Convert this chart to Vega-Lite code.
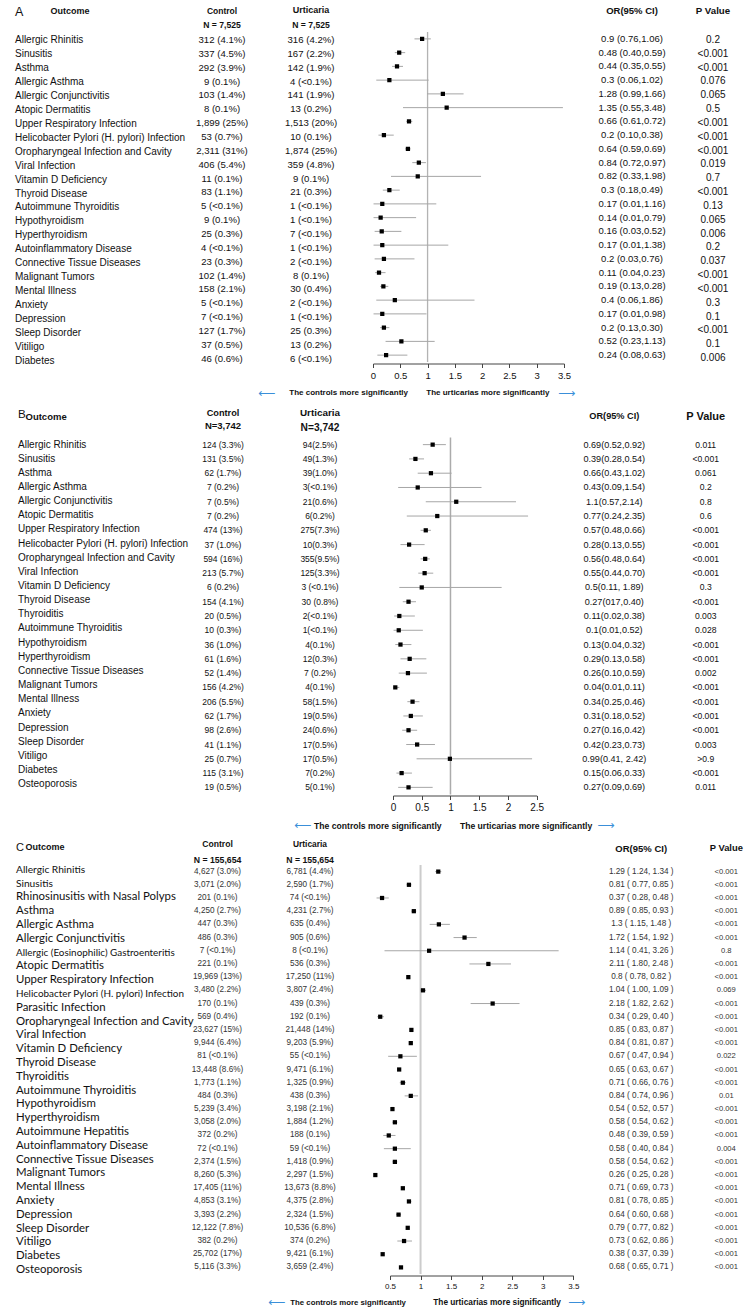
{
  "$schema": "https://vega.github.io/schema/vega-lite/v6.json",
  "padding": {"left": 15, "top": 5, "right": 5, "bottom": 0},
  "background": "white",
  "spacing": 8.5,
  "config": {
    "view": {"stroke": null},
    "font": "Liberation Sans",
    "text": {"color": "#111", "font": "Liberation Sans"},
    "title": {"anchor": "middle", "frame": "group", "fontWeight": "bold", "subtitleFontWeight": "bold", "font": "Liberation Sans", "subtitleFont": "Liberation Sans", "color": "#111", "subtitleColor": "#111"},
    "axis": {"labelFont": "Liberation Sans", "titleFont": "Liberation Sans", "labelColor": "#111", "titleColor": "#111"}
  },
  "datasets": {
    "A": [
      {"row": 1, "outcome": "Allergic Rhinitis", "control": "312 (4.1%)", "urticaria": "316 (4.2%)", "ci": "0.9 (0.76,1.06)", "p": "0.2", "or": 0.9, "lo": 0.76, "hi": 1.06},
      {"row": 2, "outcome": "Sinusitis", "control": "337 (4.5%)", "urticaria": "167 (2.2%)", "ci": "0.48 (0.40,0.59)", "p": "<0.001", "or": 0.48, "lo": 0.40, "hi": 0.59},
      {"row": 3, "outcome": "Asthma", "control": "292 (3.9%)", "urticaria": "142 (1.9%)", "ci": "0.44 (0.35,0.55)", "p": "<0.001", "or": 0.44, "lo": 0.35, "hi": 0.55},
      {"row": 4, "outcome": "Allergic Asthma", "control": "9 (0.1%)", "urticaria": "4 (<0.1%)", "ci": "0.3 (0.06,1.02)", "p": "0.076", "or": 0.3, "lo": 0.06, "hi": 1.02},
      {"row": 5, "outcome": "Allergic Conjunctivitis", "control": "103 (1.4%)", "urticaria": "141 (1.9%)", "ci": "1.28 (0.99,1.66)", "p": "0.065", "or": 1.28, "lo": 0.99, "hi": 1.66},
      {"row": 6, "outcome": "Atopic Dermatitis", "control": "8 (0.1%)", "urticaria": "13 (0.2%)", "ci": "1.35 (0.55,3.48)", "p": "0.5", "or": 1.35, "lo": 0.55, "hi": 3.48},
      {"row": 7, "outcome": "Upper Respiratory Infection", "control": "1,899 (25%)", "urticaria": "1,513 (20%)", "ci": "0.66 (0.61,0.72)", "p": "<0.001", "or": 0.66, "lo": 0.61, "hi": 0.72},
      {"row": 8, "outcome": "Helicobacter Pylori (H. pylori) Infection", "control": "53 (0.7%)", "urticaria": "10 (0.1%)", "ci": "0.2 (0.10,0.38)", "p": "<0.001", "or": 0.2, "lo": 0.10, "hi": 0.38},
      {"row": 9, "outcome": "Oropharyngeal Infection and Cavity", "control": "2,311 (31%)", "urticaria": "1,874 (25%)", "ci": "0.64 (0.59,0.69)", "p": "<0.001", "or": 0.64, "lo": 0.59, "hi": 0.69},
      {"row": 10, "outcome": "Viral Infection", "control": "406 (5.4%)", "urticaria": "359 (4.8%)", "ci": "0.84 (0.72,0.97)", "p": "0.019", "or": 0.84, "lo": 0.72, "hi": 0.97},
      {"row": 11, "outcome": "Vitamin D Deficiency", "control": "11 (0.1%)", "urticaria": "9 (0.1%)", "ci": "0.82 (0.33,1.98)", "p": "0.7", "or": 0.82, "lo": 0.33, "hi": 1.98},
      {"row": 12, "outcome": "Thyroid Disease", "control": "83 (1.1%)", "urticaria": "21 (0.3%)", "ci": "0.3 (0.18,0.49)", "p": "<0.001", "or": 0.3, "lo": 0.18, "hi": 0.49},
      {"row": 13, "outcome": "Autoimmune Thyroiditis", "control": "5 (<0.1%)", "urticaria": "1 (<0.1%)", "ci": "0.17 (0.01,1.16)", "p": "0.13", "or": 0.17, "lo": 0.01, "hi": 1.16},
      {"row": 14, "outcome": "Hypothyroidism", "control": "9 (0.1%)", "urticaria": "1 (<0.1%)", "ci": "0.14 (0.01,0.79)", "p": "0.065", "or": 0.14, "lo": 0.01, "hi": 0.79},
      {"row": 15, "outcome": "Hyperthyroidism", "control": "25 (0.3%)", "urticaria": "7 (<0.1%)", "ci": "0.16 (0.03,0.52)", "p": "0.006", "or": 0.16, "lo": 0.03, "hi": 0.52},
      {"row": 16, "outcome": "Autoinflammatory Disease", "control": "4 (<0.1%)", "urticaria": "1 (<0.1%)", "ci": "0.17 (0.01,1.38)", "p": "0.2", "or": 0.17, "lo": 0.01, "hi": 1.38},
      {"row": 17, "outcome": "Connective Tissue Diseases", "control": "23 (0.3%)", "urticaria": "2 (<0.1%)", "ci": "0.2 (0.03,0.76)", "p": "0.037", "or": 0.2, "lo": 0.03, "hi": 0.76},
      {"row": 18, "outcome": "Malignant Tumors", "control": "102 (1.4%)", "urticaria": "8 (0.1%)", "ci": "0.11 (0.04,0.23)", "p": "<0.001", "or": 0.11, "lo": 0.04, "hi": 0.23},
      {"row": 19, "outcome": "Mental Illness", "control": "158 (2.1%)", "urticaria": "30 (0.4%)", "ci": "0.19 (0.13,0.28)", "p": "<0.001", "or": 0.19, "lo": 0.13, "hi": 0.28},
      {"row": 20, "outcome": "Anxiety", "control": "5 (<0.1%)", "urticaria": "2 (<0.1%)", "ci": "0.4 (0.06,1.86)", "p": "0.3", "or": 0.4, "lo": 0.06, "hi": 1.86},
      {"row": 21, "outcome": "Depression", "control": "7 (<0.1%)", "urticaria": "1 (<0.1%)", "ci": "0.17 (0.01,0.98)", "p": "0.1", "or": 0.17, "lo": 0.01, "hi": 0.98},
      {"row": 22, "outcome": "Sleep Disorder", "control": "127 (1.7%)", "urticaria": "25 (0.3%)", "ci": "0.2 (0.13,0.30)", "p": "<0.001", "or": 0.2, "lo": 0.13, "hi": 0.30},
      {"row": 23, "outcome": "Vitiligo", "control": "37 (0.5%)", "urticaria": "13 (0.2%)", "ci": "0.52 (0.23,1.13)", "p": "0.1", "or": 0.52, "lo": 0.23, "hi": 1.13},
      {"row": 24, "outcome": "Diabetes", "control": "46 (0.6%)", "urticaria": "6 (<0.1%)", "ci": "0.24 (0.08,0.63)", "p": "0.006", "or": 0.24, "lo": 0.08, "hi": 0.63}
    ],
    "B": [
      {"row": 1, "outcome": "Allergic Rhinitis", "control": "124 (3.3%)", "urticaria": "94(2.5%)", "ci": "0.69(0.52,0.92)", "p": "0.011", "or": 0.69, "lo": 0.52, "hi": 0.92},
      {"row": 2, "outcome": "Sinusitis", "control": "131 (3.5%)", "urticaria": "49(1.3%)", "ci": "0.39(0.28,0.54)", "p": "<0.001", "or": 0.39, "lo": 0.28, "hi": 0.54},
      {"row": 3, "outcome": "Asthma", "control": "62 (1.7%)", "urticaria": "39(1.0%)", "ci": "0.66(0.43,1.02)", "p": "0.061", "or": 0.66, "lo": 0.43, "hi": 1.02},
      {"row": 4, "outcome": "Allergic Asthma", "control": "7 (0.2%)", "urticaria": "3(<0.1%)", "ci": "0.43(0.09,1.54)", "p": "0.2", "or": 0.43, "lo": 0.09, "hi": 1.54},
      {"row": 5, "outcome": "Allergic Conjunctivitis", "control": "7 (0.5%)", "urticaria": "21(0.6%)", "ci": "1.1(0.57,2.14)", "p": "0.8", "or": 1.1, "lo": 0.57, "hi": 2.14},
      {"row": 6, "outcome": "Atopic Dermatitis", "control": "7 (0.2%)", "urticaria": "6(0.2%)", "ci": "0.77(0.24,2.35)", "p": "0.6", "or": 0.77, "lo": 0.24, "hi": 2.35},
      {"row": 7, "outcome": "Upper Respiratory Infection", "control": "474 (13%)", "urticaria": "275(7.3%)", "ci": "0.57(0.48,0.66)", "p": "<0.001", "or": 0.57, "lo": 0.48, "hi": 0.66},
      {"row": 8, "outcome": "Helicobacter Pylori (H. pylori) Infection", "control": "37 (1.0%)", "urticaria": "10(0.3%)", "ci": "0.28(0.13,0.55)", "p": "<0.001", "or": 0.28, "lo": 0.13, "hi": 0.55},
      {"row": 9, "outcome": "Oropharyngeal Infection and Cavity", "control": "594 (16%)", "urticaria": "355(9.5%)", "ci": "0.56(0.48,0.64)", "p": "<0.001", "or": 0.56, "lo": 0.48, "hi": 0.64},
      {"row": 10, "outcome": "Viral Infection", "control": "213 (5.7%)", "urticaria": "125(3.3%)", "ci": "0.55(0.44,0.70)", "p": "<0.001", "or": 0.55, "lo": 0.44, "hi": 0.70},
      {"row": 11, "outcome": "Vitamin D Deficiency", "control": "6 (0.2%)", "urticaria": "3 (<0.1%)", "ci": "0.5(0.11, 1.89)", "p": "0.3", "or": 0.5, "lo": 0.11, "hi": 1.89},
      {"row": 12, "outcome": "Thyroid Disease", "control": "154 (4.1%)", "urticaria": "30 (0.8%)", "ci": "0.27(017,0.40)", "p": "<0.001", "or": 0.27, "lo": 0.17, "hi": 0.40},
      {"row": 13, "outcome": "Thyroiditis", "control": "20 (0.5%)", "urticaria": "2(<0.1%)", "ci": "0.11(0.02,0.38)", "p": "0.003", "or": 0.11, "lo": 0.02, "hi": 0.38},
      {"row": 14, "outcome": "Autoimmune Thyroiditis", "control": "10 (0.3%)", "urticaria": "1(<0.1%)", "ci": "0.1(0.01,0.52)", "p": "0.028", "or": 0.1, "lo": 0.01, "hi": 0.52},
      {"row": 15, "outcome": "Hypothyroidism", "control": "36 (1.0%)", "urticaria": "4(0.1%)", "ci": "0.13(0.04,0.32)", "p": "<0.001", "or": 0.13, "lo": 0.04, "hi": 0.32},
      {"row": 16, "outcome": "Hyperthyroidism", "control": "61 (1.6%)", "urticaria": "12(0.3%)", "ci": "0.29(0.13,0.58)", "p": "<0.001", "or": 0.29, "lo": 0.13, "hi": 0.58},
      {"row": 17, "outcome": "Connective Tissue Diseases", "control": "52 (1.4%)", "urticaria": "7 (0.2%)", "ci": "0.26(0.10,0.59)", "p": "0.002", "or": 0.26, "lo": 0.10, "hi": 0.59},
      {"row": 18, "outcome": "Malignant Tumors", "control": "156 (4.2%)", "urticaria": "4(0.1%)", "ci": "0.04(0.01,0.11)", "p": "<0.001", "or": 0.04, "lo": 0.01, "hi": 0.11},
      {"row": 19, "outcome": "Mental Illness", "control": "206 (5.5%)", "urticaria": "58(1.5%)", "ci": "0.34(0.25,0.46)", "p": "<0.001", "or": 0.34, "lo": 0.25, "hi": 0.46},
      {"row": 20, "outcome": "Anxiety", "control": "62 (1.7%)", "urticaria": "19(0.5%)", "ci": "0.31(0.18,0.52)", "p": "<0.001", "or": 0.31, "lo": 0.18, "hi": 0.52},
      {"row": 21, "outcome": "Depression", "control": "98 (2.6%)", "urticaria": "24(0.6%)", "ci": "0.27(0.16,0.42)", "p": "<0.001", "or": 0.27, "lo": 0.16, "hi": 0.42},
      {"row": 22, "outcome": "Sleep Disorder", "control": "41 (1.1%)", "urticaria": "17(0.5%)", "ci": "0.42(0.23,0.73)", "p": "0.003", "or": 0.42, "lo": 0.23, "hi": 0.73},
      {"row": 23, "outcome": "Vitiligo", "control": "25 (0.7%)", "urticaria": "17(0.5%)", "ci": "0.99(0.41, 2.42)", "p": ">0.9", "or": 0.99, "lo": 0.41, "hi": 2.42},
      {"row": 24, "outcome": "Diabetes", "control": "115 (3.1%)", "urticaria": "7(0.2%)", "ci": "0.15(0.06,0.33)", "p": "<0.001", "or": 0.15, "lo": 0.06, "hi": 0.33},
      {"row": 25, "outcome": "Osteoporosis", "control": "19 (0.5%)", "urticaria": "5(0.1%)", "ci": "0.27(0.09,0.69)", "p": "0.011", "or": 0.27, "lo": 0.09, "hi": 0.69}
    ],
    "C": [
      {"row": 1, "control": "4,627 (3.0%)", "urticaria": "6,781 (4.4%)", "ci": "1.29 ( 1.24, 1.34 )", "p": "<0.001", "or": 1.29, "lo": 1.24, "hi": 1.34},
      {"row": 2, "control": "3,071 (2.0%)", "urticaria": "2,590 (1.7%)", "ci": "0.81 ( 0.77, 0.85 )", "p": "<0.001", "or": 0.81, "lo": 0.77, "hi": 0.85},
      {"row": 3, "control": "201 (0.1%)", "urticaria": "74 (<0.1%)", "ci": "0.37 ( 0.28, 0.48 )", "p": "<0.001", "or": 0.37, "lo": 0.28, "hi": 0.48},
      {"row": 4, "control": "4,250 (2.7%)", "urticaria": "4,231 (2.7%)", "ci": "0.89 ( 0.85, 0.93 )", "p": "<0.001", "or": 0.89, "lo": 0.85, "hi": 0.93},
      {"row": 5, "control": "447 (0.3%)", "urticaria": "635 (0.4%)", "ci": "1.3 ( 1.15, 1.48 )", "p": "<0.001", "or": 1.3, "lo": 1.15, "hi": 1.48},
      {"row": 6, "control": "486 (0.3%)", "urticaria": "905 (0.6%)", "ci": "1.72 ( 1.54, 1.92 )", "p": "<0.001", "or": 1.72, "lo": 1.54, "hi": 1.92},
      {"row": 7, "control": "7 (<0.1%)", "urticaria": "8 (<0.1%)", "ci": "1.14 ( 0.41, 3.26 )", "p": "0.8", "or": 1.14, "lo": 0.41, "hi": 3.26},
      {"row": 8, "control": "221 (0.1%)", "urticaria": "536 (0.3%)", "ci": "2.11 ( 1.80, 2.48 )", "p": "<0.001", "or": 2.11, "lo": 1.80, "hi": 2.48},
      {"row": 9, "control": "19,969 (13%)", "urticaria": "17,250 (11%)", "ci": "0.8 ( 0.78, 0.82 )", "p": "<0.001", "or": 0.8, "lo": 0.78, "hi": 0.82},
      {"row": 10, "control": "3,480 (2.2%)", "urticaria": "3,807 (2.4%)", "ci": "1.04 ( 1.00, 1.09 )", "p": "0.069", "or": 1.04, "lo": 1.00, "hi": 1.09},
      {"row": 11, "control": "170 (0.1%)", "urticaria": "439 (0.3%)", "ci": "2.18 ( 1.82, 2.62 )", "p": "<0.001", "or": 2.18, "lo": 1.82, "hi": 2.62},
      {"row": 12, "control": "569 (0.4%)", "urticaria": "192 (0.1%)", "ci": "0.34 ( 0.29, 0.40 )", "p": "<0.001", "or": 0.34, "lo": 0.29, "hi": 0.40},
      {"row": 13, "control": "23,627 (15%)", "urticaria": "21,448 (14%)", "ci": "0.85 ( 0.83, 0.87 )", "p": "<0.001", "or": 0.85, "lo": 0.83, "hi": 0.87},
      {"row": 14, "control": "9,944 (6.4%)", "urticaria": "9,203 (5.9%)", "ci": "0.84 ( 0.81, 0.87 )", "p": "<0.001", "or": 0.84, "lo": 0.81, "hi": 0.87},
      {"row": 15, "control": "81 (<0.1%)", "urticaria": "55 (<0.1%)", "ci": "0.67 ( 0.47, 0.94 )", "p": "0.022", "or": 0.67, "lo": 0.47, "hi": 0.94},
      {"row": 16, "control": "13,448 (8.6%)", "urticaria": "9,471 (6.1%)", "ci": "0.65 ( 0.63, 0.67 )", "p": "<0.001", "or": 0.65, "lo": 0.63, "hi": 0.67},
      {"row": 17, "control": "1,773 (1.1%)", "urticaria": "1,325 (0.9%)", "ci": "0.71 ( 0.66, 0.76 )", "p": "<0.001", "or": 0.71, "lo": 0.66, "hi": 0.76},
      {"row": 18, "control": "484 (0.3%)", "urticaria": "438 (0.3%)", "ci": "0.84 ( 0.74, 0.96 )", "p": "0.01", "or": 0.84, "lo": 0.74, "hi": 0.96},
      {"row": 19, "control": "5,239 (3.4%)", "urticaria": "3,198 (2.1%)", "ci": "0.54 ( 0.52, 0.57 )", "p": "<0.001", "or": 0.54, "lo": 0.52, "hi": 0.57},
      {"row": 20, "control": "3,058 (2.0%)", "urticaria": "1,884 (1.2%)", "ci": "0.58 ( 0.54, 0.62 )", "p": "<0.001", "or": 0.58, "lo": 0.54, "hi": 0.62},
      {"row": 21, "control": "372 (0.2%)", "urticaria": "188 (0.1%)", "ci": "0.48 ( 0.39, 0.59 )", "p": "<0.001", "or": 0.48, "lo": 0.39, "hi": 0.59},
      {"row": 22, "control": "72 (<0.1%)", "urticaria": "59 (<0.1%)", "ci": "0.58 ( 0.40, 0.84 )", "p": "0.004", "or": 0.58, "lo": 0.40, "hi": 0.84},
      {"row": 23, "control": "2,374 (1.5%)", "urticaria": "1,418 (0.9%)", "ci": "0.58 ( 0.54, 0.62 )", "p": "<0.001", "or": 0.58, "lo": 0.54, "hi": 0.62},
      {"row": 24, "control": "8,260 (5.3%)", "urticaria": "2,297 (1.5%)", "ci": "0.26 ( 0.25, 0.28 )", "p": "<0.001", "or": 0.26, "lo": 0.25, "hi": 0.28},
      {"row": 25, "control": "17,405 (11%)", "urticaria": "13,673 (8.8%)", "ci": "0.71 ( 0.69, 0.73 )", "p": "<0.001", "or": 0.71, "lo": 0.69, "hi": 0.73},
      {"row": 26, "control": "4,853 (3.1%)", "urticaria": "4,375 (2.8%)", "ci": "0.81 ( 0.78, 0.85 )", "p": "<0.001", "or": 0.81, "lo": 0.78, "hi": 0.85},
      {"row": 27, "control": "3,393 (2.2%)", "urticaria": "2,324 (1.5%)", "ci": "0.64 ( 0.60, 0.68 )", "p": "<0.001", "or": 0.64, "lo": 0.60, "hi": 0.68},
      {"row": 28, "control": "12,122 (7.8%)", "urticaria": "10,536 (6.8%)", "ci": "0.79 ( 0.77, 0.82 )", "p": "<0.001", "or": 0.79, "lo": 0.77, "hi": 0.82},
      {"row": 29, "control": "382 (0.2%)", "urticaria": "374 (0.2%)", "ci": "0.73 ( 0.62, 0.86 )", "p": "<0.001", "or": 0.73, "lo": 0.62, "hi": 0.86},
      {"row": 30, "control": "25,702 (17%)", "urticaria": "9,421 (6.1%)", "ci": "0.38 ( 0.37, 0.39 )", "p": "<0.001", "or": 0.38, "lo": 0.37, "hi": 0.39},
      {"row": 31, "control": "5,116 (3.3%)", "urticaria": "3,659 (2.4%)", "ci": "0.68 ( 0.65, 0.71 )", "p": "<0.001", "or": 0.68, "lo": 0.65, "hi": 0.71}
    ],
    "Clabels": [
      {"row": 1, "outcome": "Allergic Rhinitis"},
      {"row": 2, "outcome": "Sinusitis"},
      {"row": 3, "outcome": "Rhinosinusitis with Nasal Polyps"},
      {"row": 4, "outcome": "Asthma"},
      {"row": 5, "outcome": "Allergic Asthma"},
      {"row": 6, "outcome": "Allergic Conjunctivitis"},
      {"row": 7, "outcome": "Allergic (Eosinophilic) Gastroenteritis"},
      {"row": 8, "outcome": "Atopic Dermatitis"},
      {"row": 9, "outcome": "Upper Respiratory Infection"},
      {"row": 10, "outcome": "Helicobacter Pylori (H. pylori) Infection"},
      {"row": 11, "outcome": "Parasitic Infection"},
      {"row": 12, "outcome": "Oropharyngeal Infection and Cavity"},
      {"row": 13, "outcome": "Viral Infection"},
      {"row": 14, "outcome": "Vitamin D Deficiency"},
      {"row": 15, "outcome": "Thyroid Disease"},
      {"row": 16, "outcome": "Thyroiditis"},
      {"row": 17, "outcome": "Autoimmune Thyroiditis"},
      {"row": 18, "outcome": "Hypothyroidism"},
      {"row": 19, "outcome": "Hyperthyroidism"},
      {"row": 20, "outcome": "Autoimmune Hepatitis"},
      {"row": 21, "outcome": "Autoinflammatory Disease"},
      {"row": 22, "outcome": "Connective Tissue Diseases"},
      {"row": 23, "outcome": "Malignant Tumors"},
      {"row": 24, "outcome": "Mental Illness"},
      {"row": 25, "outcome": "Anxiety"},
      {"row": 26, "outcome": "Depression"},
      {"row": 27, "outcome": "Sleep Disorder"},
      {"row": 28, "outcome": "Vitiligo"},
      {"row": 29, "outcome": "Diabetes"},
      {"row": 30, "outcome": "Osteoporosis"}
    ]
  },
  "vconcat": [
    {
      "spacing": 0,
      "bounds": "flush",
      "hconcat": [
        {
          "width": 180, "height": 335,
          "data": {"name": "A"},
          "title": {"text": "A", "anchor": "start", "offset": -12.6, "fontSize": 12.5, "fontWeight": "normal"},
          "mark": {"type": "text", "align": "left", "baseline": "middle", "fontSize": 10, "dy": 1},
          "encoding": {
            "x": {"datum": 0, "type": "quantitative", "scale": {"domain": [0, 1], "nice": false, "zero": false}, "axis": null},
            "y": {"field": "row", "type": "ordinal", "scale": {"type": "point", "padding": 0.5},
              "axis": {"labels": false, "ticks": false, "domain": false, "grid": false, "title": "Outcome", "titleAngle": 0, "titleAlign": "left", "titleBaseline": "alphabetic", "titleX": 35, "titleY": -18.8, "titleFontSize": 9, "titleFontWeight": "bold"}},
            "text": {"field": "outcome"}
          }
        },
        {
          "width": 54, "height": 332.6,
          "data": {"name": "A"},
          "title": {"text": "Control", "subtitle": "N = 7,525", "offset": 2, "fontSize": 8.5, "subtitleFontSize": 8.6, "subtitlePadding": 6.4},
          "mark": {"type": "text", "baseline": "middle", "fontSize": 9.6, "dy": 1},
          "encoding": {
            "y": {"field": "row", "type": "ordinal", "scale": {"type": "point", "padding": 0.5}, "axis": null},
            "text": {"field": "control"}
          }
        },
        {
          "width": 124, "height": 332.6,
          "data": {"name": "A"},
          "title": {"text": "Urticaria", "subtitle": "N = 7,525", "offset": 2, "fontSize": 9, "subtitleFontSize": 8.6, "subtitlePadding": 6.4},
          "mark": {"type": "text", "baseline": "middle", "fontSize": 9.6, "dy": 1},
          "encoding": {
            "y": {"field": "row", "type": "ordinal", "scale": {"type": "point", "padding": 0.5}, "axis": null},
            "text": {"field": "urticaria"}
          }
        },
        {
          "width": 191, "height": 330,
          "layer": [
            {
              "data": {"values": [{"ref": 1}]},
              "mark": {"type": "rule", "color": "#b3b3b3", "strokeWidth": 1.3},
              "encoding": {
                "x": {"field": "ref", "type": "quantitative", "scale": {"domain": [0, 3.5], "nice": false, "zero": false},
                  "axis": {"title": null, "values": [0, 0.5, 1, 1.5, 2, 2.5, 3, 3.5], "format": "~g", "labelFlush": false, "labelOverlap": false, "labelFontSize": 9.5, "tickSize": 4, "tickColor": "#444", "domainColor": "#444", "grid": false, "labelPadding": 3, "offset": 1.5}}
              }
            },
            {
              "data": {"name": "A"},
              "mark": {"type": "rule", "color": "#a6a6a6", "strokeWidth": 1},
              "encoding": {
                "y": {"field": "row", "type": "ordinal", "scale": {"type": "point", "padding": 0.5}, "axis": null},
                "x": {"field": "lo", "type": "quantitative", "scale": {"domain": [0, 3.5], "nice": false, "zero": false},
                  "axis": {"title": null, "values": [0, 0.5, 1, 1.5, 2, 2.5, 3, 3.5], "format": "~g", "labelFlush": false, "labelOverlap": false, "labelFontSize": 9.5, "tickSize": 4, "tickColor": "#444", "domainColor": "#444", "grid": false, "labelPadding": 3, "offset": 1.5}},
                "x2": {"field": "hi"}
              }
            },
            {
              "data": {"name": "A"},
              "mark": {"type": "point", "shape": "square", "filled": true, "size": 18, "color": "#000", "opacity": 1},
              "encoding": {
                "y": {"field": "row", "type": "ordinal", "scale": {"type": "point", "padding": 0.5}, "axis": null},
                "x": {"field": "or", "type": "quantitative", "scale": {"domain": [0, 3.5], "nice": false, "zero": false},
                  "axis": {"title": null, "values": [0, 0.5, 1, 1.5, 2, 2.5, 3, 3.5], "format": "~g", "labelFlush": false, "labelOverlap": false, "labelFontSize": 9.5, "tickSize": 4, "tickColor": "#444", "domainColor": "#444", "grid": false, "labelPadding": 3, "offset": 1.5}}
              }
            },
            {
              "data": {"values": [{"ref": 1, "label": "The controls more significantly"}]},
              "mark": {"type": "text", "align": "right", "baseline": "middle", "dx": -19.6, "y": "height", "dy": 30.7, "fontSize": 8, "fontWeight": "bold"},
              "encoding": {"x": {"field": "ref", "type": "quantitative", "scale": {"domain": [0, 3.5], "nice": false, "zero": false},
                  "axis": {"title": null, "values": [0, 0.5, 1, 1.5, 2, 2.5, 3, 3.5], "format": "~g", "labelFlush": false, "labelOverlap": false, "labelFontSize": 9.5, "tickSize": 4, "tickColor": "#444", "domainColor": "#444", "grid": false, "labelPadding": 3, "offset": 1.5}}, "text": {"field": "label"}}
            },
            {
              "data": {"values": [{"ref": 1, "label": "The urticarias more significantly"}]},
              "mark": {"type": "text", "align": "left", "baseline": "middle", "dx": -1.3, "y": "height", "dy": 30.7, "fontSize": 8, "fontWeight": "bold"},
              "encoding": {"x": {"field": "ref", "type": "quantitative", "scale": {"domain": [0, 3.5], "nice": false, "zero": false},
                  "axis": {"title": null, "values": [0, 0.5, 1, 1.5, 2, 2.5, 3, 3.5], "format": "~g", "labelFlush": false, "labelOverlap": false, "labelFontSize": 9.5, "tickSize": 4, "tickColor": "#444", "domainColor": "#444", "grid": false, "labelPadding": 3, "offset": 1.5}}, "text": {"field": "label"}}
            },
            {
              "data": {"values": [{"ref": 1, "arrow": "⟵"}]},
              "mark": {"type": "text", "align": "center", "baseline": "middle", "dx": -161, "y": "height", "dy": 30.5, "font": "DejaVu Sans", "fontSize": 12, "color": "#3a8fd9"},
              "encoding": {"x": {"field": "ref", "type": "quantitative", "scale": {"domain": [0, 3.5], "nice": false, "zero": false},
                  "axis": {"title": null, "values": [0, 0.5, 1, 1.5, 2, 2.5, 3, 3.5], "format": "~g", "labelFlush": false, "labelOverlap": false, "labelFontSize": 9.5, "tickSize": 4, "tickColor": "#444", "domainColor": "#444", "grid": false, "labelPadding": 3, "offset": 1.5}}, "text": {"field": "arrow"}}
            },
            {
              "data": {"values": [{"ref": 1, "arrow": "⟶"}]},
              "mark": {"type": "text", "align": "center", "baseline": "middle", "dx": 139, "y": "height", "dy": 30.5, "font": "DejaVu Sans", "fontSize": 12, "color": "#3a8fd9"},
              "encoding": {"x": {"field": "ref", "type": "quantitative", "scale": {"domain": [0, 3.5], "nice": false, "zero": false},
                  "axis": {"title": null, "values": [0, 0.5, 1, 1.5, 2, 2.5, 3, 3.5], "format": "~g", "labelFlush": false, "labelOverlap": false, "labelFontSize": 9.5, "tickSize": 4, "tickColor": "#444", "domainColor": "#444", "grid": false, "labelPadding": 3, "offset": 1.5}}, "text": {"field": "arrow"}}
            }
          ]
        },
        {
          "width": 136, "height": 330,
          "data": {"name": "A"},
          "title": {"text": "OR(95% CI)", "offset": 16.6, "fontSize": 9.5},
          "mark": {"type": "text", "baseline": "middle", "fontSize": 9.5},
          "encoding": {
            "y": {"field": "row", "type": "ordinal", "scale": {"type": "point", "padding": 0.5}, "axis": null},
            "text": {"field": "ci"}
          }
        },
        {
          "width": 26, "height": 332,
          "data": {"name": "A"},
          "title": {"text": "P Value", "offset": 16.6, "fontSize": 9.7},
          "mark": {"type": "text", "baseline": "middle", "fontSize": 10, "dy": 1},
          "encoding": {
            "y": {"field": "row", "type": "ordinal", "scale": {"type": "point", "padding": 0.5}, "axis": null},
            "text": {"field": "p"}
          }
        }
      ]
    },
    {
      "spacing": 0,
      "bounds": "flush",
      "hconcat": [
        {
          "width": 184, "height": 353.7,
          "data": {"name": "B"},
          "title": {"text": "B", "anchor": "start", "dx": 3, "offset": -9.9, "fontSize": 11.6, "fontWeight": "normal"},
          "mark": {"type": "text", "align": "left", "baseline": "middle", "fontSize": 10, "dx": 3},
          "encoding": {
            "x": {"datum": 0, "type": "quantitative", "scale": {"domain": [0, 1], "nice": false, "zero": false}, "axis": null},
            "y": {"field": "row", "type": "ordinal", "scale": {"type": "point", "padding": 0.5},
              "axis": {"labels": false, "ticks": false, "domain": false, "grid": false, "title": "Outcome", "titleAngle": 0, "titleAlign": "left", "titleBaseline": "alphabetic", "titleX": 10, "titleY": -18.4, "titleFontSize": 9.5, "titleFontWeight": "bold"}},
            "text": {"field": "outcome"}
          }
        },
        {
          "width": 48, "height": 357,
          "data": {"name": "B"},
          "title": {"text": "Control", "subtitle": "N=3,742", "offset": 7.0, "fontSize": 9.2, "subtitleFontSize": 9.5, "subtitlePadding": 2.7},
          "mark": {"type": "text", "baseline": "middle", "fontSize": 8.5},
          "encoding": {
            "y": {"field": "row", "type": "ordinal", "scale": {"type": "point", "padding": 0.5}, "axis": null},
            "text": {"field": "control"}
          }
        },
        {
          "width": 146, "height": 357,
          "data": {"name": "B"},
          "title": {"text": "Urticaria", "subtitle": "N=3,742", "offset": 4.6, "fontSize": 9.9, "subtitleFontSize": 10.2, "subtitlePadding": 4.9},
          "mark": {"type": "text", "baseline": "middle", "fontSize": 8.5},
          "encoding": {
            "y": {"field": "row", "type": "ordinal", "scale": {"type": "point", "padding": 0.5}, "axis": null},
            "text": {"field": "urticaria"}
          }
        },
        {
          "width": 143.7, "height": 357,
          "layer": [
            {
              "data": {"values": [{"ref": 1}]},
              "mark": {"type": "rule", "color": "#ababab", "strokeWidth": 1.5},
              "encoding": {
                "x": {"field": "ref", "type": "quantitative", "scale": {"domain": [0, 2.5], "nice": false, "zero": false},
                  "axis": {"title": null, "values": [0, 0.5, 1, 1.5, 2, 2.5], "format": "~g", "labelFlush": false, "labelOverlap": false, "labelFontSize": 10, "tickSize": 4, "tickColor": "#444", "domainColor": "#444", "grid": false, "labelPadding": 3, "offset": 1}}
              }
            },
            {
              "data": {"name": "B"},
              "mark": {"type": "rule", "color": "#a6a6a6", "strokeWidth": 1},
              "encoding": {
                "y": {"field": "row", "type": "ordinal", "scale": {"type": "point", "padding": 0.5}, "axis": null},
                "x": {"field": "lo", "type": "quantitative", "scale": {"domain": [0, 2.5], "nice": false, "zero": false},
                  "axis": {"title": null, "values": [0, 0.5, 1, 1.5, 2, 2.5], "format": "~g", "labelFlush": false, "labelOverlap": false, "labelFontSize": 10, "tickSize": 4, "tickColor": "#444", "domainColor": "#444", "grid": false, "labelPadding": 3, "offset": 1}},
                "x2": {"field": "hi"}
              }
            },
            {
              "data": {"name": "B"},
              "mark": {"type": "point", "shape": "square", "filled": true, "size": 18, "color": "#000", "opacity": 1},
              "encoding": {
                "y": {"field": "row", "type": "ordinal", "scale": {"type": "point", "padding": 0.5}, "axis": null},
                "x": {"field": "or", "type": "quantitative", "scale": {"domain": [0, 2.5], "nice": false, "zero": false},
                  "axis": {"title": null, "values": [0, 0.5, 1, 1.5, 2, 2.5], "format": "~g", "labelFlush": false, "labelOverlap": false, "labelFontSize": 10, "tickSize": 4, "tickColor": "#444", "domainColor": "#444", "grid": false, "labelPadding": 3, "offset": 1}}
              }
            },
            {
              "data": {"values": [{"ref": 1, "label": "The controls more significantly"}]},
              "mark": {"type": "text", "align": "right", "baseline": "middle", "dx": -8.9, "y": "height", "dy": 31.1, "fontSize": 8.6, "fontWeight": "bold"},
              "encoding": {"x": {"field": "ref", "type": "quantitative", "scale": {"domain": [0, 2.5], "nice": false, "zero": false},
                  "axis": {"title": null, "values": [0, 0.5, 1, 1.5, 2, 2.5], "format": "~g", "labelFlush": false, "labelOverlap": false, "labelFontSize": 10, "tickSize": 4, "tickColor": "#444", "domainColor": "#444", "grid": false, "labelPadding": 3, "offset": 1}}, "text": {"field": "label"}}
            },
            {
              "data": {"values": [{"ref": 1, "label": "The urticarias more significantly"}]},
              "mark": {"type": "text", "align": "left", "baseline": "middle", "dx": 9.4, "y": "height", "dy": 31.1, "fontSize": 8.6, "fontWeight": "bold"},
              "encoding": {"x": {"field": "ref", "type": "quantitative", "scale": {"domain": [0, 2.5], "nice": false, "zero": false},
                  "axis": {"title": null, "values": [0, 0.5, 1, 1.5, 2, 2.5], "format": "~g", "labelFlush": false, "labelOverlap": false, "labelFontSize": 10, "tickSize": 4, "tickColor": "#444", "domainColor": "#444", "grid": false, "labelPadding": 3, "offset": 1}}, "text": {"field": "label"}}
            },
            {
              "data": {"values": [{"ref": 1, "arrow": "⟵"}]},
              "mark": {"type": "text", "align": "center", "baseline": "middle", "dx": -148, "y": "height", "dy": 30.5, "font": "DejaVu Sans", "fontSize": 12, "color": "#3a8fd9"},
              "encoding": {"x": {"field": "ref", "type": "quantitative", "scale": {"domain": [0, 2.5], "nice": false, "zero": false},
                  "axis": {"title": null, "values": [0, 0.5, 1, 1.5, 2, 2.5], "format": "~g", "labelFlush": false, "labelOverlap": false, "labelFontSize": 10, "tickSize": 4, "tickColor": "#444", "domainColor": "#444", "grid": false, "labelPadding": 3, "offset": 1}}, "text": {"field": "arrow"}}
            },
            {
              "data": {"values": [{"ref": 1, "arrow": "⟶"}]},
              "mark": {"type": "text", "align": "center", "baseline": "middle", "dx": 155.4, "y": "height", "dy": 30.5, "font": "DejaVu Sans", "fontSize": 12, "color": "#3a8fd9"},
              "encoding": {"x": {"field": "ref", "type": "quantitative", "scale": {"domain": [0, 2.5], "nice": false, "zero": false},
                  "axis": {"title": null, "values": [0, 0.5, 1, 1.5, 2, 2.5], "format": "~g", "labelFlush": false, "labelOverlap": false, "labelFontSize": 10, "tickSize": 4, "tickColor": "#444", "domainColor": "#444", "grid": false, "labelPadding": 3, "offset": 1}}, "text": {"field": "arrow"}}
            }
          ]
        },
        {
          "width": 154.6, "height": 357,
          "data": {"name": "B"},
          "title": {"text": "OR(95% CI)", "offset": 16.2, "fontSize": 9.2},
          "mark": {"type": "text", "baseline": "middle", "fontSize": 9.1},
          "encoding": {
            "y": {"field": "row", "type": "ordinal", "scale": {"type": "point", "padding": 0.5}, "axis": null},
            "text": {"field": "ci"}
          }
        },
        {
          "width": 27.4, "height": 357,
          "data": {"name": "B"},
          "title": {"text": "P Value", "offset": 15.1, "fontSize": 11},
          "mark": {"type": "text", "baseline": "middle", "fontSize": 8.6},
          "encoding": {
            "y": {"field": "row", "type": "ordinal", "scale": {"type": "point", "padding": 0.5}, "axis": null},
            "text": {"field": "p"}
          }
        }
      ]
    },
    {
      "spacing": 0,
      "bounds": "flush",
      "hconcat": [
        {
          "width": 190, "height": 413.8,
          "data": {"name": "Clabels"},
          "title": {"text": "C", "anchor": "start", "dx": 1, "offset": -10.2, "fontSize": 11, "fontWeight": "normal"},
          "mark": {"type": "text", "align": "left", "baseline": "middle", "font": "Lato", "dx": 1, "dy": -2},
          "encoding": {
            "x": {"datum": 0, "type": "quantitative", "scale": {"domain": [0, 1], "nice": false, "zero": false}, "axis": null},
            "y": {"field": "row", "type": "ordinal", "scale": {"type": "point", "padding": 0.5},
              "axis": {"labels": false, "ticks": false, "domain": false, "grid": false, "title": "Outcome", "titleAngle": 0, "titleAlign": "left", "titleBaseline": "alphabetic", "titleX": 10, "titleY": -15.4, "titleFontSize": 9, "titleFontWeight": "bold"}},
            "size": {"condition": [
              {"test": "datum.outcome === 'Allergic (Eosinophilic) Gastroenteritis' || datum.outcome === 'Helicobacter Pylori (H. pylori) Infection'", "value": 9.9},
              {"test": "datum.row <= 2", "value": 10.2}
            ], "value": 11.4},
            "text": {"field": "outcome"}
          }
        },
        {
          "width": 25, "height": 409,
          "data": {"name": "C"},
          "title": {"text": "Control", "subtitle": "N = 155,654", "offset": 0.2, "fontSize": 8.6, "subtitleFontSize": 8.7, "subtitlePadding": 7.3},
          "mark": {"type": "text", "baseline": "middle", "fontSize": 8.2, "color": "#333"},
          "encoding": {
            "y": {"field": "row", "type": "ordinal", "scale": {"type": "point", "padding": 0.5}, "axis": null},
            "text": {"field": "control"}
          }
        },
        {
          "width": 160, "height": 409,
          "data": {"name": "C"},
          "title": {"text": "Urticaria", "subtitle": "N = 155,654", "offset": 0.2, "fontSize": 8.4, "subtitleFontSize": 8.7, "subtitlePadding": 7.3},
          "mark": {"type": "text", "baseline": "middle", "fontSize": 8.2, "color": "#333"},
          "encoding": {
            "y": {"field": "row", "type": "ordinal", "scale": {"type": "point", "padding": 0.5}, "axis": null},
            "text": {"field": "urticaria"}
          }
        },
        {
          "width": 183.3, "height": 409,
          "layer": [
            {
              "data": {"values": [{"ref": 1}]},
              "mark": {"type": "rule", "color": "#cccccc", "strokeWidth": 2},
              "encoding": {
                "x": {"field": "ref", "type": "quantitative", "scale": {"domain": [0.5, 3.5], "nice": false, "zero": false},
                  "axis": {"title": null, "values": [0.5, 1, 1.5, 2, 2.5, 3, 3.5], "format": "~g", "labelFlush": false, "labelOverlap": false, "labelFontSize": 8, "tickSize": 4, "tickColor": "#444", "domainColor": "#444", "grid": false, "labelPadding": 3, "offset": 1.5}}
              }
            },
            {
              "data": {"name": "C"},
              "mark": {"type": "rule", "color": "#a6a6a6", "strokeWidth": 1},
              "encoding": {
                "y": {"field": "row", "type": "ordinal", "scale": {"type": "point", "padding": 0.5}, "axis": null},
                "x": {"field": "lo", "type": "quantitative", "scale": {"domain": [0.5, 3.5], "nice": false, "zero": false},
                  "axis": {"title": null, "values": [0.5, 1, 1.5, 2, 2.5, 3, 3.5], "format": "~g", "labelFlush": false, "labelOverlap": false, "labelFontSize": 8, "tickSize": 4, "tickColor": "#444", "domainColor": "#444", "grid": false, "labelPadding": 3, "offset": 1.5}},
                "x2": {"field": "hi"}
              }
            },
            {
              "data": {"name": "C"},
              "mark": {"type": "point", "shape": "square", "filled": true, "size": 18, "color": "#000", "opacity": 1},
              "encoding": {
                "y": {"field": "row", "type": "ordinal", "scale": {"type": "point", "padding": 0.5}, "axis": null},
                "x": {"field": "or", "type": "quantitative", "scale": {"domain": [0.5, 3.5], "nice": false, "zero": false},
                  "axis": {"title": null, "values": [0.5, 1, 1.5, 2, 2.5, 3, 3.5], "format": "~g", "labelFlush": false, "labelOverlap": false, "labelFontSize": 8, "tickSize": 4, "tickColor": "#444", "domainColor": "#444", "grid": false, "labelPadding": 3, "offset": 1.5}}
              }
            },
            {
              "data": {"values": [{"ref": 1, "label": "The controls more significantly"}]},
              "mark": {"type": "text", "align": "right", "baseline": "middle", "dx": -14.6, "y": "height", "dy": 28.6, "fontSize": 7.8, "fontWeight": "bold"},
              "encoding": {"x": {"field": "ref", "type": "quantitative", "scale": {"domain": [0.5, 3.5], "nice": false, "zero": false},
                  "axis": {"title": null, "values": [0.5, 1, 1.5, 2, 2.5, 3, 3.5], "format": "~g", "labelFlush": false, "labelOverlap": false, "labelFontSize": 8, "tickSize": 4, "tickColor": "#444", "domainColor": "#444", "grid": false, "labelPadding": 3, "offset": 1.5}}, "text": {"field": "label"}}
            },
            {
              "data": {"values": [{"ref": 1, "label": "The urticarias more significantly"}]},
              "mark": {"type": "text", "align": "left", "baseline": "middle", "dx": 12.7, "y": "height", "dy": 28.6, "fontSize": 8.3, "fontWeight": "bold"},
              "encoding": {"x": {"field": "ref", "type": "quantitative", "scale": {"domain": [0.5, 3.5], "nice": false, "zero": false},
                  "axis": {"title": null, "values": [0.5, 1, 1.5, 2, 2.5, 3, 3.5], "format": "~g", "labelFlush": false, "labelOverlap": false, "labelFontSize": 8, "tickSize": 4, "tickColor": "#444", "domainColor": "#444", "grid": false, "labelPadding": 3, "offset": 1.5}}, "text": {"field": "label"}}
            },
            {
              "data": {"values": [{"ref": 1, "arrow": "⟵"}]},
              "mark": {"type": "text", "align": "center", "baseline": "middle", "dx": -144, "y": "height", "dy": 28, "font": "DejaVu Sans", "fontSize": 12, "color": "#3a8fd9"},
              "encoding": {"x": {"field": "ref", "type": "quantitative", "scale": {"domain": [0.5, 3.5], "nice": false, "zero": false},
                  "axis": {"title": null, "values": [0.5, 1, 1.5, 2, 2.5, 3, 3.5], "format": "~g", "labelFlush": false, "labelOverlap": false, "labelFontSize": 8, "tickSize": 4, "tickColor": "#444", "domainColor": "#444", "grid": false, "labelPadding": 3, "offset": 1.5}}, "text": {"field": "arrow"}}
            },
            {
              "data": {"values": [{"ref": 1, "arrow": "⟶"}]},
              "mark": {"type": "text", "align": "center", "baseline": "middle", "dx": 156, "y": "height", "dy": 28, "font": "DejaVu Sans", "fontSize": 12, "color": "#3a8fd9"},
              "encoding": {"x": {"field": "ref", "type": "quantitative", "scale": {"domain": [0.5, 3.5], "nice": false, "zero": false},
                  "axis": {"title": null, "values": [0.5, 1, 1.5, 2, 2.5, 3, 3.5], "format": "~g", "labelFlush": false, "labelOverlap": false, "labelFontSize": 8, "tickSize": 4, "tickColor": "#444", "domainColor": "#444", "grid": false, "labelPadding": 3, "offset": 1.5}}, "text": {"field": "arrow"}}
            }
          ]
        },
        {
          "width": 134.4, "height": 409,
          "data": {"name": "C"},
          "title": {"text": "OR(95% CI)", "offset": 12, "fontSize": 9.5},
          "mark": {"type": "text", "baseline": "middle", "fontSize": 8.2, "color": "#333"},
          "encoding": {
            "y": {"field": "row", "type": "ordinal", "scale": {"type": "point", "padding": 0.5}, "axis": null},
            "text": {"field": "ci"}
          }
        },
        {
          "width": 34.6, "height": 409,
          "data": {"name": "C"},
          "title": {"text": "P Value", "offset": 12, "fontSize": 9.4},
          "mark": {"type": "text", "baseline": "middle", "fontSize": 7.6, "color": "#333"},
          "encoding": {
            "y": {"field": "row", "type": "ordinal", "scale": {"type": "point", "padding": 0.5}, "axis": null},
            "text": {"field": "p"}
          }
        }
      ]
    }
  ]
}
